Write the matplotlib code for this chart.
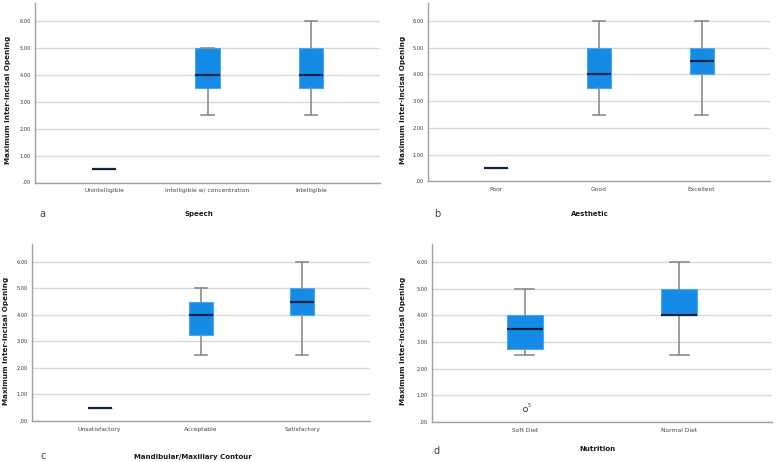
import matplotlib
matplotlib.use("Agg")
import matplotlib.pyplot as plt

# ---- data ----
speech_cats = ["Unintelligible", "Intelligible w/ concentration", "Intelligible"]
speech_q1 = [0.5, 3.5, 3.5]
speech_med = [0.5, 4.0, 4.0]
speech_q3 = [0.5, 5.0, 5.0]
speech_lo = [0.5, 2.5, 2.5]
speech_hi = [0.5, 5.0, 6.0]

aes_cats = ["Poor", "Good", "Excellent"]
aes_q1 = [0.5, 3.5, 4.0]
aes_med = [0.5, 4.0, 4.5]
aes_q3 = [0.5, 5.0, 5.0]
aes_lo = [0.5, 2.5, 2.5]
aes_hi = [0.5, 6.0, 6.0]

cont_cats = ["Unsatisfactory", "Acceptable", "Satisfactory"]
cont_q1 = [0.5, 3.25, 4.0]
cont_med = [0.5, 4.0, 4.5]
cont_q3 = [0.5, 4.5, 5.0]
cont_lo = [0.5, 2.5, 2.5]
cont_hi = [0.5, 5.0, 6.0]

nut_cats = ["Soft Diet", "Normal Diet"]
nut_q1 = [2.75, 4.0]
nut_med = [3.5, 4.0]
nut_q3 = [4.0, 5.0]
nut_lo = [2.5, 2.5]
nut_hi = [5.0, 6.0]
nut_fliers = [[0.5], []]
nut_flier_labels = [["5"], []]

yticks = [0, 1, 2, 3, 4, 5, 6]
ytick_labels = [".00", "1.00", "2.00", "3.00", "4.00", "5.00", "6.00"]
ylabel = "Maximum Inter-incisal Opening"

BOX_FILL = "#168BE6"
BOX_EDGE = "#4FA6EC"
MED = "#14233F"
WHISK = "#8C8C8C"
GRID = "#D9D9D9"

fig = plt.figure(figsize=(7.77, 4.62), dpi=100)
W, H = 777, 462


def px_axes(left, right, y0, ytop):
    return fig.add_axes([left / W, 1 - y0 / H, (right - left) / W, (y0 - ytop) / H])


def draw(ax, cats, q1, med, q3, lo, hi, fliers=None, flabels=None):
    n = len(cats)
    stats = []
    for i in range(n):
        stats.append(dict(q1=q1[i], med=med[i], q3=q3[i], whislo=lo[i], whishi=hi[i],
                          fliers=fliers[i] if fliers else []))
    pos = list(range(n))
    ax.bxp(stats, positions=pos, widths=0.235, patch_artist=True, showfliers=True,
           boxprops=dict(facecolor=BOX_FILL, edgecolor=BOX_EDGE, linewidth=0.8),
           medianprops=dict(color=MED, linewidth=1.6, solid_capstyle="butt"),
           whiskerprops=dict(color=WHISK, linewidth=1.2),
           capprops=dict(color=WHISK, linewidth=1.2),
           capwidths=0.12,
           flierprops=dict(marker="o", markersize=3.0, markerfacecolor="none",
                           markeredgecolor="#555555", markeredgewidth=0.7))
    if fliers:
        for i in range(n):
            for v, lab in zip(fliers[i], flabels[i]):
                ax.annotate(lab, (pos[i], v), xytext=(2.3, 1.3), textcoords="offset points",
                            fontsize=3.6, color="#333333")
    span = 3.333 if n == 3 else 2.2
    pad = (span - (n - 1)) / 2
    ax.set_xlim(-pad, n - 1 + pad)
    ax.set_ylim(0, 6.67)
    ax.set_yticks(yticks)
    ax.set_yticklabels(ytick_labels)
    ax.set_xticks(pos)
    ax.set_xticklabels(cats)
    ax.tick_params(axis="y", length=0, labelsize=3.6, colors="#333333", pad=3)
    ax.tick_params(axis="x", length=0, labelsize=4.3, colors="#444444", pad=4)
    ax.grid(axis="y", color=GRID, linewidth=1.0)
    ax.set_axisbelow(True)
    for s in ["top", "right"]:
        ax.spines[s].set_visible(False)
    for s in ["left", "bottom"]:
        ax.spines[s].set_color("#A0A0A0")
        ax.spines[s].set_linewidth(1.0)


axa = px_axes(35, 380, 182.5, 3)
draw(axa, speech_cats, speech_q1, speech_med, speech_q3, speech_lo, speech_hi)
axb = px_axes(428, 770, 181.5, 3)
draw(axb, aes_cats, aes_q1, aes_med, aes_q3, aes_lo, aes_hi)
axc = px_axes(32, 370, 421, 244)
draw(axc, cont_cats, cont_q1, cont_med, cont_q3, cont_lo, cont_hi)
axd = px_axes(432, 772, 422, 244)
draw(axd, nut_cats, nut_q1, nut_med, nut_q3, nut_lo, nut_hi, nut_fliers, nut_flier_labels)


def ftext(x, y, s, **kw):
    fig.text(x / W, 1 - y / H, s, **kw)


for x, y in [(8, 100), (403, 100), (6, 341), (403, 341)]:
    ftext(x, y, ylabel, rotation=90, ha="center", va="center", fontsize=5.2,
          color="#1a1a1a", fontweight="semibold")

lab_kw = dict(ha="center", va="center", fontsize=5.0, color="#1a1a1a", fontweight="bold")
ftext(199, 214, "Speech", **lab_kw)
ftext(590, 214, "Aesthetic", **lab_kw)
ftext(193, 457, "Mandibular/Maxillary Contour", **lab_kw)
ftext(597, 449, "Nutrition", **lab_kw)
let_kw = dict(ha="center", va="center", fontsize=7, color="#444444")
ftext(42, 214, "a", **let_kw)
ftext(437, 214, "b", **let_kw)
ftext(43, 456, "c", **let_kw)
ftext(437, 451, "d", **let_kw)

fig.savefig("out.png", dpi=100, facecolor="white")
